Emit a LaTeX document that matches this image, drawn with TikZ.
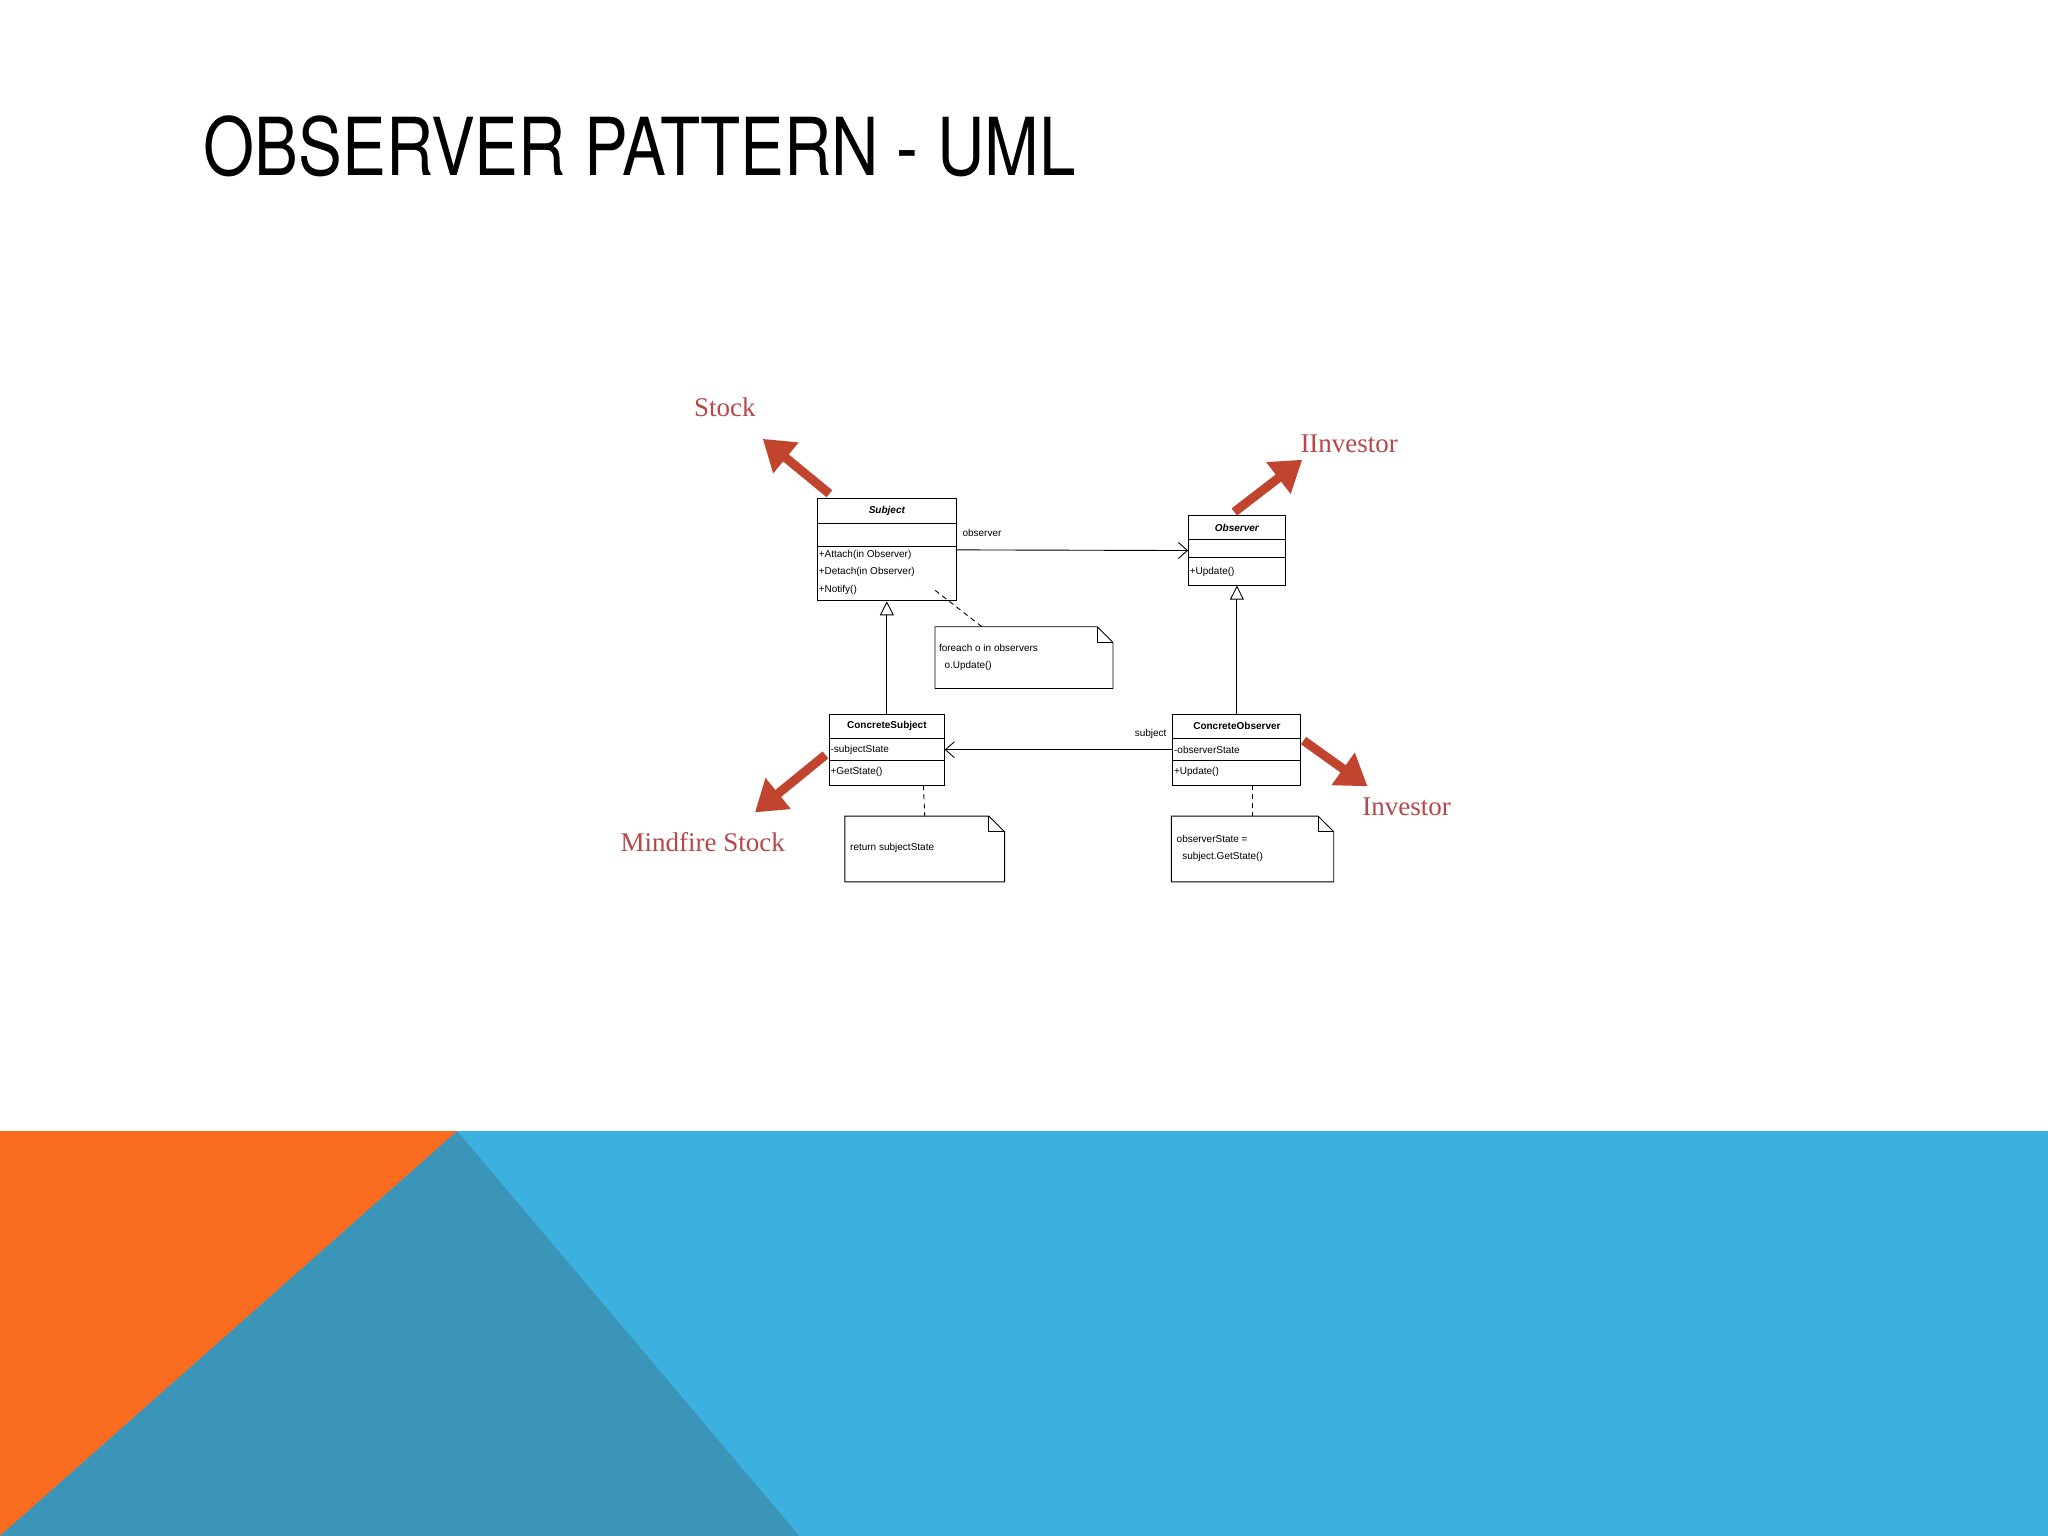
\documentclass[tikz,border=0pt]{standalone}
\usepackage{fontspec}
\setmainfont{Liberation Serif}
\newfontfamily\umlfont{Liberation Sans}
\newfontfamily\titlefont[FakeStretch=0.82]{TeX Gyre Heros}
\usetikzlibrary{arrows.meta,calc}
\definecolor{band}{HTML}{3CB1DF}
\definecolor{teal}{HTML}{3B95B8}
\definecolor{orng}{HTML}{F96B1E}
\definecolor{redarrow}{HTML}{C0442E}
\definecolor{redtext}{HTML}{B8474A}
\tikzset{
 box/.style={draw, line width=0.9pt, inner sep=0pt},
 utxt/.style={font=\umlfont\fontsize{10}{12}\selectfont, inner sep=1pt, anchor=west},
 uname/.style={font=\umlfont\bfseries\fontsize{10}{12}\selectfont, inner sep=1pt},
 notebox/.style={inner sep=0pt},
 bigarrow/.style={redarrow, line width=9pt, -{Triangle[length=30pt,width=38pt]}},
 redlabel/.style={text=redtext, font=\fontsize{27}{30}\selectfont, inner sep=0pt},
 gen/.style={line width=0.9pt, -{Triangle[open,length=14pt,width=14pt]}},
 assoc/.style={line width=0.9pt, -{Straight Barb[length=9pt,width=16pt]}},
 dep/.style={line width=0.9pt, dashed, dash pattern=on 5pt off 4pt}
}
\newcommand{\notefold}[1]{%
 \draw[line width=0.9pt] (#1.north west) -- ($(#1.north east)+(-12,0)$) -- ($(#1.north east)+(0,12)$) -- (#1.south east) -- (#1.south west) -- cycle;
 \draw[line width=0.9pt] ($(#1.north east)+(-12,0)$) -- ($(#1.north east)+(-12,12)$) -- ($(#1.north east)+(0,12)$);}
\begin{document}
\begin{tikzpicture}[x=1.30612pt,y=-1.30612pt]
\useasboundingbox (0,0) rectangle (1568,1176);
\fill[white] (0,0) rectangle (1568,1176);
% bottom band
\fill[band] (0,866) rectangle (1568,1176);
\fill[orng] (0,866) -- (350,866) -- (0,1176) -- cycle;
\fill[teal] (350,866) -- (612,1176) -- (0,1176) -- cycle;
% title
\node[anchor=west, inner sep=0pt, font=\titlefont\fontsize{80}{90}\selectfont] (title) at (156,112) {OBSERVER PATTERN - UML};

% class boxes
\node[box, minimum width=138.4pt, minimum height=101.9pt] (subj) at (679,421) {};
\node[box, minimum width=96.7pt, minimum height=69.2pt] (obs) at (947,421.5) {};
\node[box, minimum width=114.9pt, minimum height=70.5pt] (csub) at (679,574) {};
\node[box, minimum width=128pt, minimum height=70.5pt] (cobs) at (947,574) {};
% compartments
\draw[line width=0.9pt] (626,401) -- (732,401) (626,418) -- (732,418);
\draw[line width=0.9pt] (910,413) -- (984,413) (910,427) -- (984,427);
\draw[line width=0.9pt] (635,565) -- (723,565) (635,582) -- (723,582);
\draw[line width=0.9pt] (898,565) -- (996,565) (898,582) -- (996,582);
% texts
\node[uname, font=\umlfont\bfseries\itshape\fontsize{10}{12}\selectfont] (tsubj) at (679,391) {Subject};
\node[utxt] (m1) at (626,425) {+Attach(in Observer)};
\node[utxt] (m2) at (626,438) {+Detach(in Observer)};
\node[utxt] (m3) at (626,452) {+Notify()};
\node[uname, font=\umlfont\bfseries\itshape\fontsize{10}{12}\selectfont] (tobs) at (947,404) {Observer};
\node[utxt] (m4) at (910,438) {+Update()};
\node[uname] (tcsub) at (679,556) {ConcreteSubject};
\node[utxt] (a1) at (635,574) {-subjectState};
\node[utxt] (m5) at (635,591) {+GetState()};
\node[uname] (tcobs) at (947,556) {ConcreteObserver};
\node[utxt] (a2) at (898,574) {-observerState};
\node[utxt] (m6) at (898,591) {+Update()};

% notes
\node[notebox, minimum width=177.6pt, minimum height=61.4pt] (note1) at (784,503.5) {};
\node[notebox, minimum width=159.3pt, minimum height=65.3pt] (note2) at (708,650) {};
\node[notebox, minimum width=162pt, minimum height=65.3pt] (note3) at (959,650) {};
\notefold{note1}\notefold{note2}\notefold{note3}
\node[utxt] (n1a) at (718,496) {foreach o in observers};
\node[utxt] (n1b) at (718,510) {\ \ o.Update()};
\node[utxt] (n2) at (650,649) {return subjectState};
\node[utxt] (n3a) at (900,642) {observerState =};
\node[utxt] (n3b) at (900,656) {\ \ subject.GetState()};

% connectors
\draw[assoc] (subj.east) -- (obs.west);
\node[utxt] (lobs) at (736,408) {observer};
\draw[assoc] (cobs.west) -- (csub.east);
\node[utxt, anchor=east] (lsub) at (894,562) {subject};
\draw[gen] (csub.north) -- (subj.south);
\draw[gen] (cobs.north) -- (obs.south);
\coordinate (d1) at (716,452);
\coordinate (d1e) at (752,480);
\draw[dep] (d1) -- (d1e);
\draw[dep] ($(csub.south)+(28,0)$) -- (note2.north);
\draw[dep] ($(cobs.south)+(12,0)$) -- (note3.north);

% red annotation arrows
\coordinate (s0) at (635,378); \coordinate (s1) at (584,336);
\coordinate (i0) at (945,392); \coordinate (i1) at (997,352);
\coordinate (ms0) at (632,578); \coordinate (ms1) at (578,622);
\coordinate (in0) at (998,567); \coordinate (in1) at (1047,602);
\draw[bigarrow] (s0) -- (s1);
\draw[bigarrow] (i0) -- (i1);
\draw[bigarrow] (ms0) -- (ms1);
\draw[bigarrow] (in0) -- (in1);
\node[redlabel] (lstock) at (555,312) {Stock};
\node[redlabel] (linv1) at (1033,340) {IInvestor};
\node[redlabel] (lms) at (538,645) {Mindfire Stock};
\node[redlabel] (linv2) at (1077,618) {Investor};
\end{tikzpicture}
\end{document}
